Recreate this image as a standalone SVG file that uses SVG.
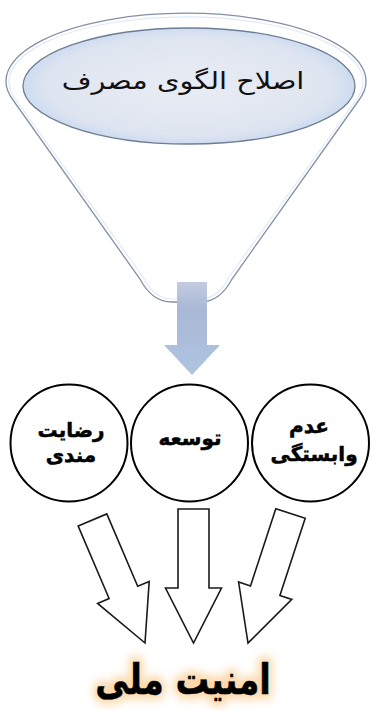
<svg xmlns="http://www.w3.org/2000/svg" width="370" height="710" viewBox="0 0 370 710">
  <defs>
    <radialGradient id="ellFill" cx="0.5" cy="0.5" r="0.5">
      <stop offset="0" stop-color="#e8ecf4"/>
      <stop offset="0.85" stop-color="#dfe5f0"/>
      <stop offset="1" stop-color="#cddcf0"/>
    </radialGradient>
    <linearGradient id="flowGrad" x1="0" y1="0" x2="0" y2="1">
      <stop offset="0" stop-color="#c3cbe0"/>
      <stop offset="0.3" stop-color="#a9b8d6"/>
      <stop offset="1" stop-color="#afc4e0"/>
    </linearGradient>
    <filter id="glow" x="-20%" y="-40%" width="140%" height="180%">
      <feGaussianBlur stdDeviation="5"/>
    </filter>
    <style>
      .funnel { fill: #ffffff; stroke: #8390a6; stroke-width: 1.3; }
      .funnelInner { fill: none; stroke: #e0eaf6; stroke-width: 1.2; }
      .node { fill: #ffffff; stroke: #000000; stroke-width: 2; }
      .arrow { fill: #ffffff; stroke: #1a1a1a; stroke-width: 1.6; stroke-linejoin: miter; }
      .lbl { font-family: "DejaVu Sans", sans-serif; font-weight: bold; fill: #000000; stroke: #000000; stroke-width: 0.5; text-anchor: middle; }
    </style>
  </defs>
  <rect width="370" height="710" fill="#ffffff"/>

  <g id="funnel">
    <path class="funnel" d="M 13 100 L 140 279 Q 152 302 172 302 L 200 302 Q 220 302 232 279 L 359 100 A 180 68 0 1 0 13 100 Z"/>
    <path class="funnelInner" d="M 16 100 L 143 277 Q 154 299 172 299 L 200 299 Q 218 299 229 277 L 356 100 A 177 65 0 1 0 16 100" />
    <ellipse cx="189" cy="86" rx="166" ry="58" fill="url(#ellFill)" stroke="#6f7c92" stroke-width="1.3"/>
    <text transform="translate(183,89) scale(1.2,1)" font-family="DejaVu Sans, sans-serif" font-size="24" fill="#111" text-anchor="middle" direction="rtl">اصلاح الگوی مصرف</text>
  </g>

  <g id="connectors">
    <path d="M 177 282 L 207 282 L 207 345 L 220 345 L 192 375 L 164 345 L 177 345 Z" fill="url(#flowGrad)"/>
    <polygon class="arrow" points="78.2,526.1 106.8,513.9 137.7,586.3 149.2,581.4 145,643 97.6,603.4 109.1,598.5"/>
    <polygon class="arrow" points="178,509 209,509 209,588 221.5,588 193.5,643 165.5,588 178,588"/>
    <polygon class="arrow" points="275.8,508.7 305.2,518.3 279.9,595.5 291.8,599.4 248,643 238.6,582 250.5,585.9"/>
  </g>

  <g id="node-satisfaction">
    <circle class="node" cx="69" cy="443" r="58.5"/>
    <text class="lbl" x="71" y="437" font-size="20" direction="rtl">رضایت</text>
    <text class="lbl" x="71" y="462" font-size="20" direction="rtl">مندی</text>
  </g>
  <g id="node-development">
    <circle class="node" cx="189.5" cy="443" r="58.5"/>
    <text class="lbl" x="190" y="445" font-size="20" direction="rtl">توسعه</text>
  </g>
  <g id="node-independence">
    <circle class="node" cx="310.5" cy="443" r="58.5"/>
    <text class="lbl" x="309" y="433" font-size="20" direction="rtl">عدم</text>
    <text class="lbl" x="314" y="461" font-size="20" direction="rtl">وابستگی</text>
  </g>

  <g id="node-security">
    <text transform="translate(183,694) scale(0.8,1)" font-family="DejaVu Sans, sans-serif" font-weight="bold" font-size="42" text-anchor="middle" direction="rtl" fill="#f7b45c" stroke="#f9c684" stroke-width="10" opacity="0.7" filter="url(#glow)">امنیت ملی</text>
    <text class="lbl" transform="translate(183,694) scale(0.8,1)" font-size="42" direction="rtl">امنیت ملی</text>
  </g>
</svg>
